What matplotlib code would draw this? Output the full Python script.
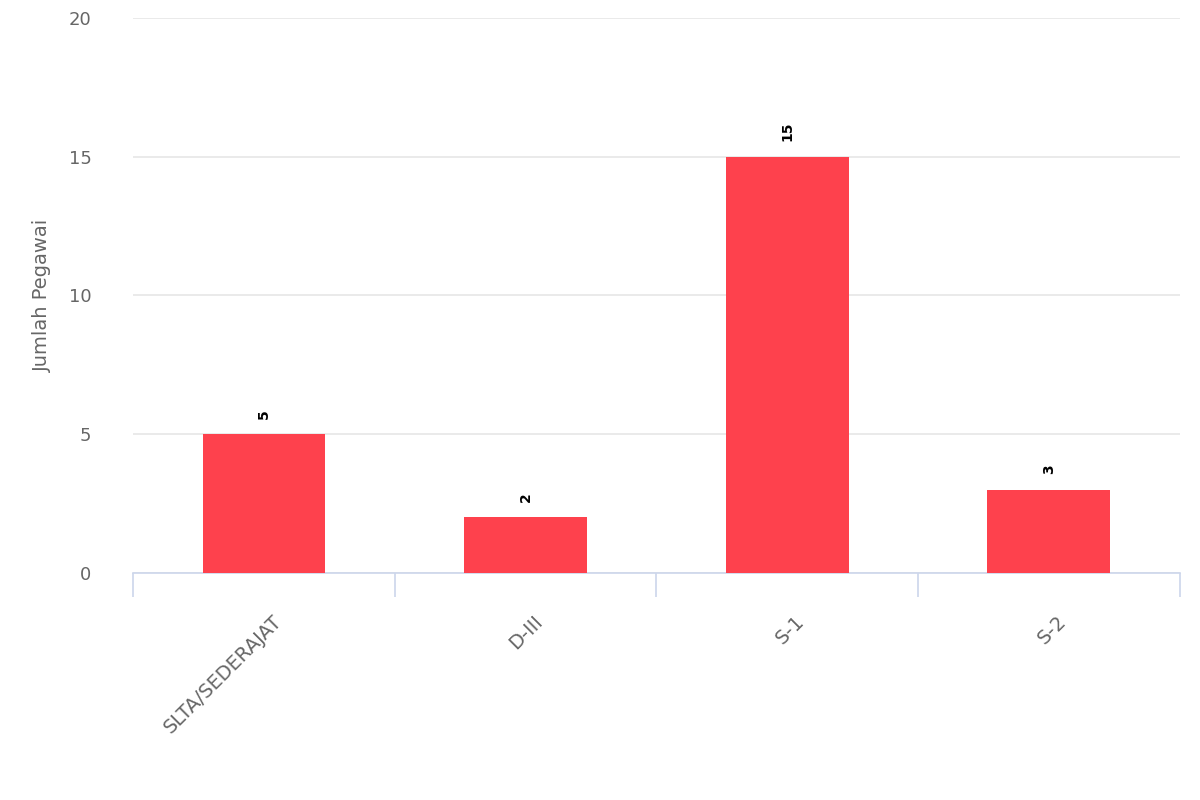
import matplotlib.pyplot as plt
import numpy as np

categories = ['SLTA/SEDERAJAT', 'D-III', 'S-1', 'S-2']
values = [5, 2, 15, 3]

fig = plt.figure(figsize=(12, 8), dpi=100)
ax = fig.add_axes([0.111, 0.284, 0.872, 0.6935])

x = np.arange(len(categories))
ax.bar(x, values, width=0.47, color='#fe414d', zorder=3)
for xi, v in zip(x, values):
    ax.text(xi, v + 0.55, str(v), rotation=90, ha='center', va='bottom',
            fontsize=10, fontweight='bold', color='black')

ax.set_xlim(-0.5, len(categories) - 0.5)
ax.set_ylim(0, 20)
ax.set_yticks([0, 5, 10, 15, 20])
ax.grid(axis='y', color='#e6e6e6', linewidth=1.2, zorder=0)
ax.tick_params(axis='y', length=0, labelsize=13, labelcolor='#666666', pad=30)

ax.set_xticks(np.arange(-0.5, len(categories), 1.0))
ax.set_xticklabels([])
ax.tick_params(axis='x', length=17, color='#ccd6eb', width=1.2)
for xi, c in zip(x, categories):
    ax.text(xi + 0.03, -1.4, c, rotation=45, ha='right', va='top',
            fontsize=14, color='#666666', rotation_mode='anchor')

for s in ['top', 'right', 'left']:
    ax.spines[s].set_visible(False)
ax.spines['bottom'].set_color('#ccd6eb')
ax.spines['bottom'].set_linewidth(1.2)

ax.set_ylabel('Jumlah Pegawai', fontsize=14, color='#666666', labelpad=12)

fig.savefig('out.png', dpi=100)
